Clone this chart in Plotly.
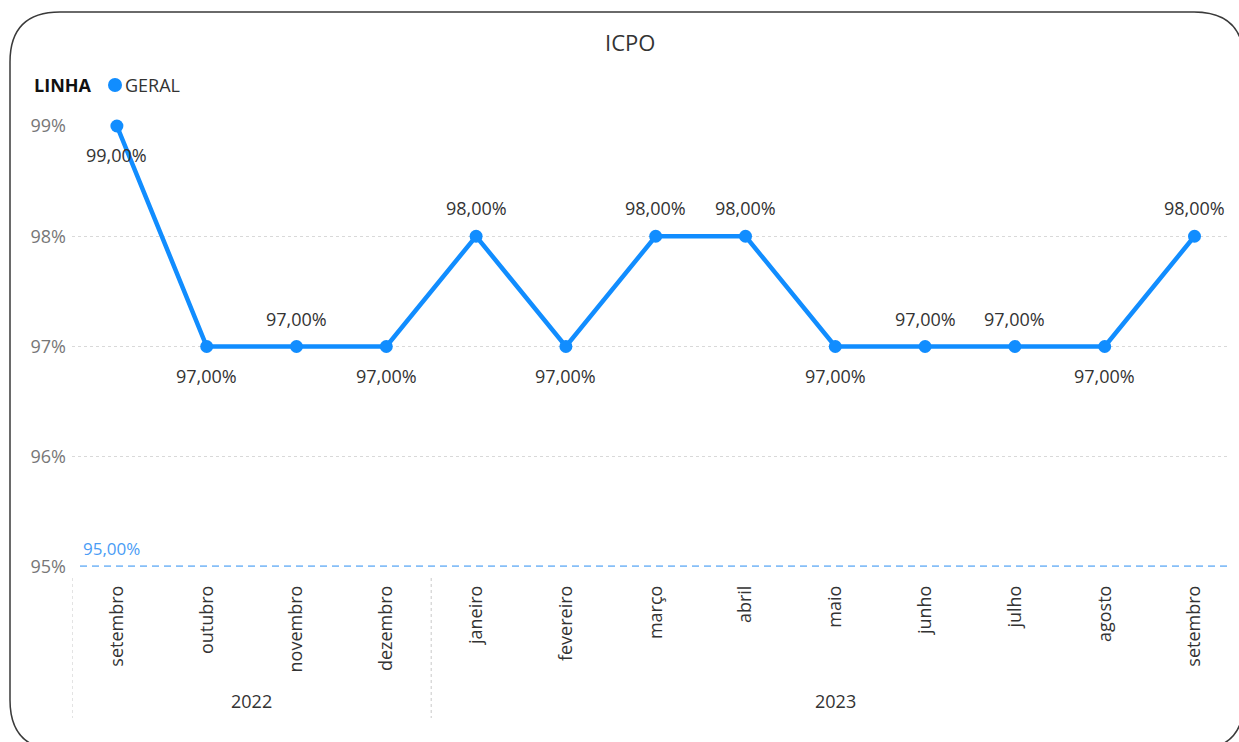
import plotly.graph_objects as go

months = ["setembro", "outubro", "novembro", "dezembro", "janeiro", "fevereiro",
          "março", "abril", "maio", "junho", "julho", "agosto", "setembro"]
years = ["2022", "2022", "2022", "2022", "2023", "2023", "2023", "2023",
         "2023", "2023", "2023", "2023", "2023"]
values = [0.99, 0.97, 0.97, 0.97, 0.98, 0.97, 0.98, 0.98, 0.97, 0.97, 0.97, 0.97, 0.98]
label_side = ["below", "below", "above", "below", "above", "below", "above", "above",
              "below", "above", "above", "below", "above"]
target = 0.95
y_ticks = [0.95, 0.96, 0.97, 0.98, 0.99]

W, H = 1239, 742
PL, PR, PT, PB = 72, 1228, 126, 567   # plot area in page pixels
L, T = PL, PT
R, B = W - PR, H - PB
pw, ph = PR - PL, PB - PT

xs = list(range(len(months)))
band = 89.8
xmax = (pw / band) - 0.5

def fmt(v):
    return f"{v*100:.2f}%".replace(".", ",")

def px_x(p):
    return (p - PL) / pw

def px_y(p):
    return (PB - p) / ph

FONT = "Open Sans, DejaVu Sans, sans-serif"
BLUE = "#118DFF"
TXT = "#333333"

fig = go.Figure()
fig.add_trace(go.Scatter(
    x=xs, y=values, mode="lines+markers",
    line=dict(color=BLUE, width=4.5),
    marker=dict(color=BLUE, size=13),
    cliponaxis=False, showlegend=False, hoverinfo="skip",
))

shapes = []
shapes.append(dict(type="line", xref="paper", yref="y", x0=px_x(80), x1=1, y0=target, y1=target,
                   line=dict(color="#86BFF8", width=3.5, dash="7px,5px")))
for sx in [-0.5, 3.5]:
    shapes.append(dict(type="line", xref="x", yref="paper", x0=sx, x1=sx,
                       y0=px_y(578), y1=px_y(718),
                       line=dict(color="#C8C8C8", width=1, dash="dot")))
x0, y0, x1, y1 = 10, 12, 1244, 750
r = 50
path = (f"M {px_x(x0)},{px_y(y0 + r)} "
        f"Q {px_x(x0)},{px_y(y0)} {px_x(x0 + r)},{px_y(y0)} "
        f"L {px_x(x1 - r)},{px_y(y0)} "
        f"Q {px_x(x1)},{px_y(y0)} {px_x(x1)},{px_y(y0 + r)} "
        f"L {px_x(x1)},{px_y(y1 - r)} "
        f"Q {px_x(x1)},{px_y(y1)} {px_x(x1 - r)},{px_y(y1)} "
        f"L {px_x(x0 + r)},{px_y(y1)} "
        f"Q {px_x(x0)},{px_y(y1)} {px_x(x0)},{px_y(y1 - r)} Z")
shapes.append(dict(type="path", xref="paper", yref="paper", path=path,
                   line=dict(color="#3A3A3A", width=1.5), layer="above"))
shapes.append(dict(type="circle", xref="paper", yref="paper",
                   x0=px_x(108), x1=px_x(122), y0=px_y(92), y1=px_y(78),
                   fillcolor=BLUE, line=dict(width=0)))

annotations = [
    dict(text="ICPO", xref="paper", yref="paper", x=px_x(630), y=px_y(42),
         xanchor="center", yanchor="middle",
         showarrow=False, font=dict(size=22, color=TXT, family=FONT)),
    dict(text="<b>LINHA</b>", xref="paper", yref="paper", x=px_x(32), y=px_y(85),
         xanchor="left", yanchor="middle", showarrow=False,
         font=dict(size=18, color="#111111", family=FONT)),
    dict(text="GERAL", xref="paper", yref="paper", x=px_x(123), y=px_y(85),
         xanchor="left", yanchor="middle", showarrow=False,
         font=dict(size=18, color=TXT, family=FONT)),
    dict(text=fmt(target), xref="paper", yref="y", x=px_x(81), y=target, yshift=19,
         xanchor="left", yanchor="middle", showarrow=False,
         font=dict(size=17, color="#4A9CF5", family=FONT)),
]
for i, (v, side) in enumerate(zip(values, label_side)):
    annotations.append(dict(text=fmt(v), x=i, y=v, xref="x", yref="y",
                            yshift=-29 if side == "below" else 28,
                            xanchor="center", yanchor="middle", showarrow=False,
                            font=dict(size=18, color=TXT, family=FONT)))
groups = {}
for i, yv in enumerate(years):
    groups.setdefault(yv, []).append(i)
for yv, idx in groups.items():
    cx = (idx[0] + idx[-1]) / 2
    annotations.append(dict(text=yv, xref="x", yref="paper", x=cx, y=px_y(701),
                            yanchor="middle", showarrow=False,
                            font=dict(size=18, color=TXT, family=FONT)))

fig.update_layout(
    width=W, height=H, autosize=False,
    margin=dict(l=L, r=R, t=T, b=B, pad=0),
    paper_bgcolor="white", plot_bgcolor="white",
    shapes=shapes, annotations=annotations,
    xaxis=dict(range=[-0.5, xmax], tickmode="array", tickvals=xs, ticktext=months,
               tickangle=-90, showgrid=False, zeroline=False, showline=False, ticks="",
               ticklabelstandoff=14,
               tickfont=dict(size=18, color=TXT, family=FONT), fixedrange=True),
    yaxis=dict(range=[0.95, 0.99], tickmode="array", tickvals=y_ticks,
               ticktext=[f"{int(round(v*100))}%" for v in y_ticks],
               showgrid=True, gridcolor="#D9D9D9", griddash="dot", gridwidth=1,
               zeroline=False, showline=False, ticks="", ticklabelstandoff=5,
               tickfont=dict(size=18, color="#777777", family=FONT), fixedrange=True),
)

fig.write_html("out.html",
               config={"displayModeBar": False, "staticPlot": True},
               post_script="document.body.style.margin='0';"
                           "document.body.style.overflow='hidden';"
                           "document.documentElement.style.overflow='hidden';")
